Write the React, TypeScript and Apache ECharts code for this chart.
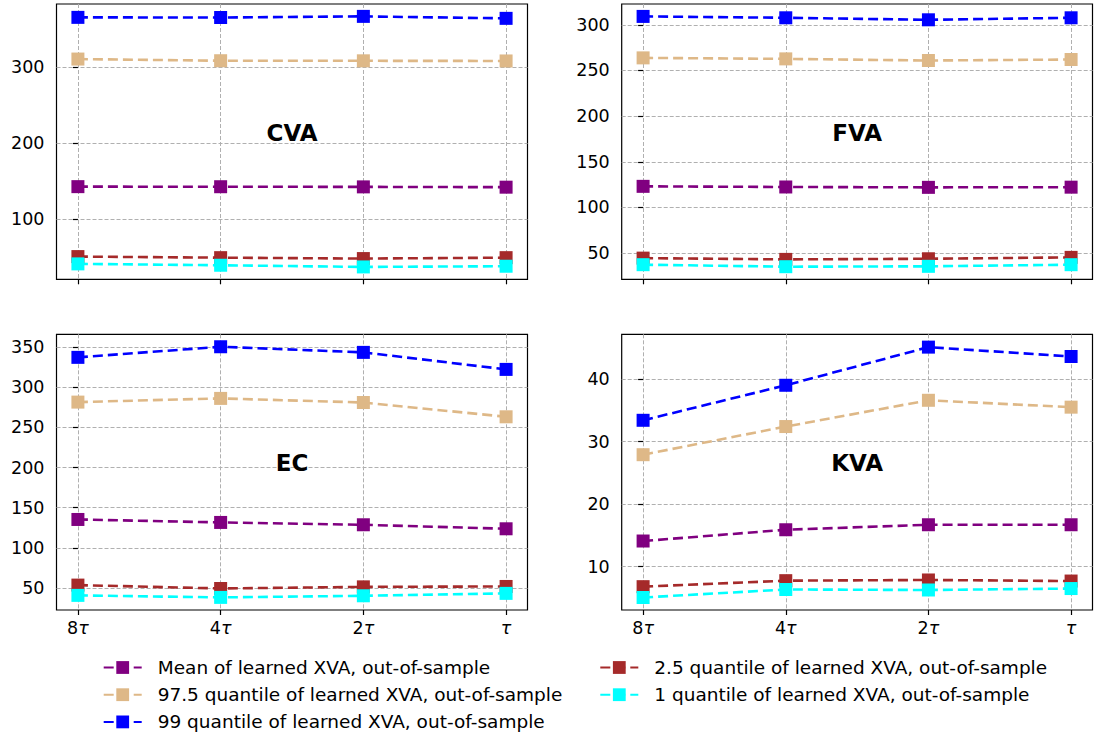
import React, { useEffect, useRef } from 'react';
import * as echarts from 'echarts';

const xLabels = ['8τ', '4τ', '2τ', 'τ'];
const xPositions = [0, 1, 2, 3];

const seriesNames = [
  'Mean of learned XVA, out-of-sample',
  '97.5 quantile of learned XVA, out-of-sample',
  '99 quantile of learned XVA, out-of-sample',
  '2.5 quantile of learned XVA, out-of-sample',
  '1 quantile of learned XVA, out-of-sample',
];
const seriesColors = ['#800080', '#deb887', '#0000ff', '#a52a2a', '#00ffff'];
const panelTitles = ['CVA', 'FVA', 'EC', 'KVA'];

// CVA
const cvaMean = [142.5, 142.4, 142.2, 141.8];
const cva975 = [310.5, 308.3, 308.2, 308.0];
const cva99 = [365.4, 365.2, 366.7, 364.1];
const cva25 = [50.4, 49.0, 47.8, 49.0];
const cva1 = [40.8, 39.0, 36.8, 37.7];
// FVA
const fvaMean = [123.1, 122.4, 122.0, 122.2];
const fva975 = [263.8, 262.7, 260.9, 262.0];
const fva99 = [309.2, 307.7, 305.5, 307.7];
const fva25 = [44.5, 43.1, 43.8, 45.3];
const fva1 = [37.3, 35.1, 35.5, 37.3];
// EC
const ecMean = [135.4, 131.7, 128.8, 123.8];
const ec975 = [281.5, 286.1, 281.0, 263.2];
const ec99 = [337.2, 350.4, 343.4, 322.2];
const ec25 = [53.7, 49.5, 51.5, 52.0];
const ec1 = [40.9, 38.4, 40.4, 43.4];
// KVA
const kvaMean = [14.1, 15.9, 16.7, 16.7];
const kva975 = [27.9, 32.4, 36.6, 35.5];
const kva99 = [33.4, 39.0, 45.1, 43.6];
const kva25 = [6.8, 7.76, 7.87, 7.7];
const kva1 = [5.07, 6.35, 6.27, 6.5];

const cvaTicks = [100, 200, 300];
const fvaTicks = [50, 100, 150, 200, 250, 300];
const ecTicks = [50, 100, 150, 200, 250, 300, 350];
const kvaTicks = [10, 20, 30, 40];

const cvaRange = [20.5, 383.0];
const fvaRange = [21.3, 322.8];
const ecRange = [22.7, 365.9];
const kvaRange = [3.07, 47.15];

const panelData = [
  [cvaMean, cva975, cva99, cva25, cva1],
  [fvaMean, fva975, fva99, fva25, fva1],
  [ecMean, ec975, ec99, ec25, ec1],
  [kvaMean, kva975, kva99, kva25, kva1],
];
const panelTicks = [cvaTicks, fvaTicks, ecTicks, kvaTicks];
const panelRanges = [cvaRange, fvaRange, ecRange, kvaRange];

const FONT = '"DejaVu Sans", sans-serif';

const grids = [
  { left: 56.5, top: 4, width: 471, height: 275.3 },
  { left: 621.7, top: 4, width: 470.8, height: 275.3 },
  { left: 56.5, top: 334.3, width: 471, height: 275.7 },
  { left: 621.7, top: 334.3, width: 470.8, height: 275.7 },
];

function tauLabel(v: number): string {
  const s = xLabels[Math.round(v)] ?? '';
  const pre = s.replace('τ', '');
  return (pre ? `{n|${pre}}` : '') + '{t|τ}';
}

export default function App() {
  const ref = useRef<HTMLDivElement>(null);
  useEffect(() => {
    if (!ref.current) return;
    const chart = echarts.init(ref.current, null, { renderer: 'svg' });
    const gridLine = { show: true, lineStyle: { color: '#b0b0b0', width: 1, type: [4, 2] } };
    const legendText = {
      fontSize: 18.5,
      fontFamily: FONT,
      color: '#000',
      lineHeight: 20,
      padding: [0, 0, 0, 11],
    };
    const option: any = {
      animation: false,
      backgroundColor: '#fff',
      textStyle: { fontFamily: FONT },
      grid: grids.map((g) => ({
        ...g,
        show: true,
        borderColor: '#000',
        borderWidth: 1.2,
        backgroundColor: 'transparent',
        containLabel: false,
      })),
      xAxis: grids.map((_, i) => ({
        type: 'value',
        gridIndex: i,
        min: -0.15,
        max: 3.15,
        axisLine: { show: false },
        axisTick: {
          show: true,
          length: 5,
          lineStyle: { color: '#000', width: 1.2 },
          customValues: xPositions,
        },
        axisLabel: {
          show: i >= 2,
          customValues: xPositions,
          formatter: tauLabel,
          color: '#000',
          fontSize: 17.5,
          fontFamily: FONT,
          margin: 9,
          rich: {
            n: { fontSize: 17.5, fontFamily: FONT, color: '#000' },
            t: { fontSize: 17.5, fontFamily: FONT, color: '#000', fontStyle: 'italic' },
          },
        },
        splitLine: gridLine,
      })),
      yAxis: grids.map((_, i) => ({
        type: 'value',
        gridIndex: i,
        min: panelRanges[i][0],
        max: panelRanges[i][1],
        axisLine: { show: false },
        axisTick: {
          show: true,
          length: 5,
          lineStyle: { color: '#000', width: 1.2 },
          customValues: panelTicks[i],
        },
        axisLabel: {
          customValues: panelTicks[i],
          formatter: (v: number) => String(v),
          color: '#000',
          fontSize: 17.5,
          fontFamily: FONT,
          margin: 12,
        },
        splitLine: gridLine,
      })),
      legend: [
        {
          data: seriesNames.slice(0, 3),
          orient: 'vertical',
          left: 102.7,
          top: 657.5,
          padding: 0,
          itemGap: 7.2,
          itemWidth: 38,
          itemHeight: 16,
          selectedMode: false,
          textStyle: legendText,
        },
        {
          data: seriesNames.slice(3, 5),
          orient: 'vertical',
          left: 599.3,
          top: 657.5,
          padding: 0,
          itemGap: 7.2,
          itemWidth: 38,
          itemHeight: 16,
          selectedMode: false,
          textStyle: legendText,
        },
      ],
      series: panelData.flatMap((panel, gi) =>
        panel.map((vals, si) => ({
          type: 'line',
          name: seriesNames[si],
          xAxisIndex: gi,
          yAxisIndex: gi,
          data: vals.map((v, k) => [xPositions[k], v]),
          symbol: 'rect',
          symbolSize: 13,
          showSymbol: true,
          color: seriesColors[si],
          itemStyle: { color: seriesColors[si] },
          lineStyle: { color: seriesColors[si], width: 2.6, type: [10, 5] },
          z: 2 + si,
        }))
      ),
      graphic: panelTitles.map((t, i) => ({
        type: 'text',
        x: grids[i].left + grids[i].width / 2,
        y: grids[i].top + grids[i].height / 2 - 9,
        z: 100,
        style: {
          text: t,
          font: `bold 23px ${FONT}`,
          fill: '#000',
          textAlign: 'center',
          textVerticalAlign: 'middle',
          align: 'center',
          verticalAlign: 'middle',
        },
      })),
    };
    chart.setOption(option);
    return () => chart.dispose();
  }, []);
  return (
    <div
      ref={ref}
      style={{ position: 'absolute', left: 0, top: 0, width: 1097, height: 737 }}
    />
  );
}
